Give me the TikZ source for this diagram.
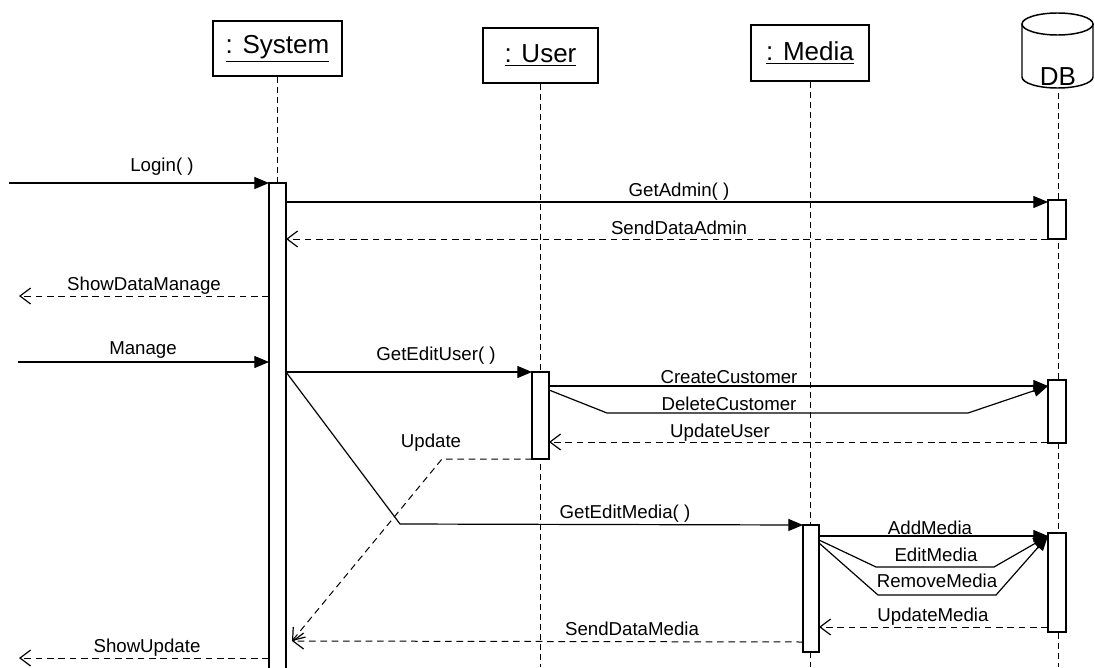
\documentclass[tikz,border=0pt]{standalone}
\usepackage{fontspec}
\setmainfont{Liberation Sans}
\usetikzlibrary{arrows.meta,calc}
\begin{document}
\begin{tikzpicture}[x=0.75pt,y=-0.75pt,
  lbl/.style={font=\fontsize{14pt}{16pt}\selectfont, inner sep=0pt, anchor=base},
  titlefont/.style={font=\fontsize{19.5pt}{22pt}\selectfont, inner sep=0pt},
  objbox/.style={draw, line width=0.9pt, inner sep=0pt, font=\fontsize{19.5pt}{22pt}\selectfont},
  life/.style={line width=0.7pt, dash pattern=on 4.5pt off 3pt},
  act/.style={draw, fill=white, line width=0.9pt, inner sep=0pt, outer sep=0pt},
  msg/.style={line width=0.9pt, -{Triangle[length=11pt,width=9pt]}},
  ret/.style={line width=0.75pt, dash pattern=on 5pt off 3.5pt, -{Straight Barb[length=8pt,width=12pt,line width=0.9pt]}},
]
\useasboundingbox (0,0) rectangle (1095,667);
\coordinate (bottom) at (0,667);
% object boxes
\node[objbox, minimum width=96.75pt, minimum height=41.25pt] (sys) at (277.5,48.5) {\underline{: System}};
\node[objbox, minimum width=86.25pt, minimum height=41.25pt] (user) at (540.5,55.5) {\underline{: User}};
\node[objbox, minimum width=88.5pt, minimum height=42pt] (media) at (810,53) {\underline{: Media}};
% DB cylinder
\draw[line width=1.1pt] (1022,24) -- (1022,77) arc[start angle=180,end angle=0,x radius=35.5,y radius=11] -- (1093,24);
\draw[line width=1.1pt] (1057.5,24) ellipse[x radius=35.5,y radius=11];
\node[titlefont] (db) at (1058,77) {DB};
\coordinate (dbtop) at (1058,93);
% lifelines
\draw[life] (sys.south) -- (sys.south |- bottom);
\draw[life] (user.south) -- (user.south |- bottom);
\draw[life] (media.south) -- (media.south |- bottom);
\draw[life] (dbtop) -- (dbtop |- bottom);
% activations
\node[act, minimum width=12.75pt, minimum height=372.75pt] (sysact) at (277.5,431.5) {};
\node[act, minimum width=13.5pt, minimum height=29.25pt] (dbacta) at (1057,219.5) {};
\node[act, minimum width=12.75pt, minimum height=65.25pt] (useract) at (540.5,415.5) {};
\node[act, minimum width=13.5pt, minimum height=47.25pt] (dbactb) at (1057,411.5) {};
\node[act, minimum width=12pt, minimum height=95.25pt] (mediaact) at (811,588.5) {};
\node[act, minimum width=13.5pt, minimum height=74.25pt] (dbactc) at (1057,582.5) {};
% coordinates
\coordinate (loginS) at (9,183);
\coordinate (ga) at (0,202);
\coordinate (sda) at (0,239);
\coordinate (sdm) at (19,296);
\coordinate (man) at (18,362);
\coordinate (cc) at (0,386);
\coordinate (dcz) at (0,390);
\coordinate (dca) at (607,413);
\coordinate (dcb) at (968,413);
\coordinate (uu) at (0,442);
\coordinate (upa) at (442,459);
\coordinate (meet) at (292,641);
\coordinate (gema) at (400,524);
\coordinate (am) at (0,536);
\coordinate (emz) at (0,540);
\coordinate (ema) at (876,567);
\coordinate (emb) at (994,567);
\coordinate (rmz) at (0,543);
\coordinate (rma) at (878,595);
\coordinate (rmb) at (996,595);
\coordinate (um) at (0,627);
\coordinate (sdmd) at (0,642);
\coordinate (su) at (19,658);
% messages
\draw[msg] (loginS) -- (sysact.north west);
\draw[msg] (sysact.east |- ga) -- (dbacta.west |- ga);
\draw[ret] (dbacta.south west) -- (sysact.east |- sda);
\draw[ret] (sysact.west |- sdm) -- (sdm);
\draw[msg] (man) -- (sysact.west |- man);
\draw[msg] (sysact.east |- useract.north) -- (useract.north west);
\draw[msg] (useract.east |- cc) -- (dbactb.west |- cc);
\draw[msg] (useract.east |- dcz) -- (dca) -- (dcb) -- (dbactb.west |- cc);
\draw[ret] (dbactb.west |- uu) -- (useract.east |- uu);
\draw[ret] (useract.south west) -- (upa) -- (meet);
\draw[msg] (sysact.east |- useract.north) -- (gema) -- (mediaact.north west);
\draw[msg] (mediaact.east |- am) -- (dbactc.west |- am);
\draw[msg] (mediaact.east |- emz) -- (ema) -- (emb) -- (dbactc.west |- am);
\draw[msg] (mediaact.east |- rmz) -- (rma) -- (rmb) -- (dbactc.west |- am);
\draw[ret] (dbactc.west |- um) -- (mediaact.east |- um);
\draw[ret] (mediaact.west |- sdmd) -- (meet);
\draw[ret] (sysact.west |- su) -- (su);
% labels
\node[lbl] (tLogin) at (162,171) {Login( )};
\node[lbl] (tGetAdmin) at (679,196) {GetAdmin( )};
\node[lbl] (tSendDataAdmin) at (679,234) {SendDataAdmin};
\node[lbl] (tShowDataManage) at (144,290) {ShowDataManage};
\node[lbl] (tManage) at (143,354) {Manage};
\node[lbl] (tGetEditUser) at (436,360) {GetEditUser( )};
\node[lbl] (tUpdate) at (431,447) {Update};
\node[lbl] (tCreateCustomer) at (729,383) {CreateCustomer};
\node[lbl] (tDeleteCustomer) at (729,410) {DeleteCustomer};
\node[lbl] (tUpdateUser) at (720,437) {UpdateUser};
\node[lbl] (tGetEditMedia) at (625,518) {GetEditMedia( )};
\node[lbl] (tAddMedia) at (930,534) {AddMedia};
\node[lbl] (tEditMedia) at (936,561) {EditMedia};
\node[lbl] (tRemoveMedia) at (937,587) {RemoveMedia};
\node[lbl] (tUpdateMedia) at (933,621) {UpdateMedia};
\node[lbl] (tSendDataMedia) at (632,635) {SendDataMedia};
\node[lbl] (tShowUpdate) at (147,652) {ShowUpdate};
\end{tikzpicture}
\end{document}
